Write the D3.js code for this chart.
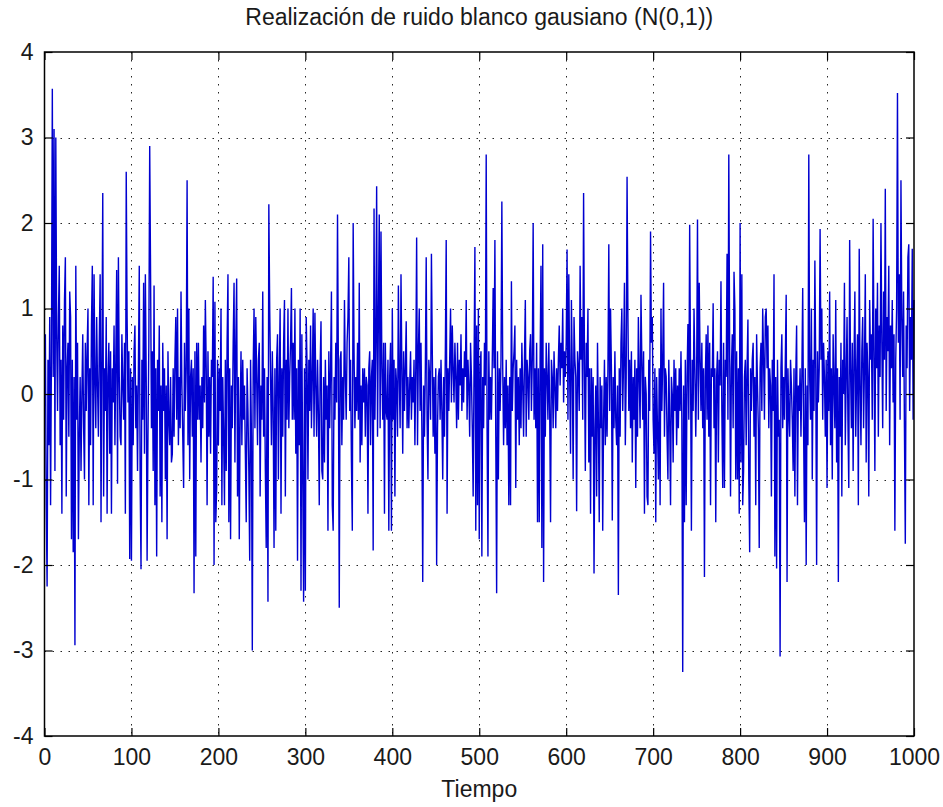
<!DOCTYPE html>
<html>
<head>
<meta charset="utf-8">
<script src="https://cdn.jsdelivr.net/npm/d3@7"></script>
<style>
  html, body { margin: 0; padding: 0; background: #ffffff; }
  svg { display: block; }
  text { font-family: "Liberation Sans", Arial, sans-serif; fill: #1a1a1a; }
</style>
</head>
<body>
<svg id="chart" width="943" height="807"></svg>
<script>
// ---- Data ----
const titleText = "Realización de ruido blanco gausiano (N(0,1))";
const xLabelText = "Tiempo";
const xTicks = [0, 100, 200, 300, 400, 500, 600, 700, 800, 900, 1000];
const yTicks = [-4, -3, -2, -1, 0, 1, 2, 3, 4];
const xDomain = [0, 1000];
const yDomain = [-4, 4];

// 1000 samples of the noise realization
const noise = [
  0.7, -1.3, -2.25, 0.4, -0.6, 0.9, -1.3, 0.5, 3.57, 0.2,
  3.1, -0.9, 3.0, 0.7, -0.2, 0.9, 1.5, -0.6, 0.4, -1.4,
  0.8, -0.3, 1.1, 1.6, -1.2, 0.3, 0.6, -0.5, 1.2, 0.9,
  -1.7, 0.4, -1.85, 0.2, -2.94, 1.5, -0.3, 0.6, -1.7, -0.5,
  0.2, -0.9, 0.0, 0.7, -0.4, -1.0, 0.6, -0.2, 0.5, 1.0,
  -1.3, 0.3, -0.6, 0.8, 1.5, -1.3, 1.4, 0.2, -0.4, 0.9,
  0.1, -0.5, 0.6, 1.4, -1.5, 0.4, 2.35, -1.2, 0.3, -0.2,
  0.9, -1.4, 0.2, 0.6, -0.7, 0.5, -1.4, 0.3, -0.1, 0.8,
  -0.6, 0.4, 1.45, -1.05, 1.6, 0.2, -0.5, -0.6, 0.7, 0.1,
  -0.3, 0.6, -1.4, 2.6, 0.9, -0.1, 0.5, -1.93, 0.3, -1.95,
  0.2, -0.6, 0.5, 0.8, -0.4, 0.1, -0.9, 0.3, 1.5, -1.0,
  -2.05, 0.4, -0.3, 1.3, -0.7, 1.4, 0.2, -1.95, -0.5, 0.6,
  2.9, 1.4, -0.4, 0.5, -0.9, 1.27, -1.3, 0.3, -1.9, 0.4,
  -0.2, 0.8, -1.2, 0.1, -1.5, 0.6, -0.2, 0.3, -1.0, 0.1,
  -1.7, 0.5, -0.3, -0.6, 0.2, -0.8, -0.7, 0.3, -0.5, 0.4,
  0.9, -0.3, 1.0, -0.6, 0.2, -0.4, 1.2, 0.1, -0.5, -1.1,
  0.6, -0.2, 0.3, 2.5, -0.6, 1.0, -1.0, 0.2, 0.4, -0.5,
  0.3, -2.33, 0.5, -1.9, 0.6, -0.3, 0.6, -0.3, 0.1, -0.8,
  0.2, -0.4, 0.8, -0.1, 1.1, 0.3, -1.3, 0.5, -0.5, 0.2,
  -0.7, 0.4, 0.2, 1.37, -2.0, 1.08, -1.5, -1.1, 0.4, -0.6,
  0.3, -0.2, 1.0, -1.3, 0.2, -0.5, -1.3, 0.4, -0.9, 0.6,
  1.4, -1.5, 0.3, -1.7, 0.1, -0.4, 0.6, 1.3, -0.8, 0.6,
  1.35, -1.2, 0.2, -1.7, -0.3, 0.5, -0.6, 0.4, -0.3, 0.1,
  -0.7, -1.5, 0.3, -0.2, -0.9, -1.95, 0.4, -0.5, -3.0, 0.3,
  1.0, -0.4, 0.9, 0.2, -0.6, 0.4, 0.6, -1.2, 0.1, -0.3,
  1.2, -0.5, 0.3, -0.9, -1.8, 0.2, -2.43, 2.22, 1.0, 0.2,
  -0.6, 0.5, -0.2, -1.8, 0.3, -1.6, 0.4, 0.7, -1.0, 0.2,
  1.0, -1.4, 0.3, -0.5, 0.6, 1.1, -1.2, 0.4, -0.3, 1.0,
  -0.4, 0.2, 0.6, 1.24, -0.3, 0.6, -0.3, 1.0, -0.7, 0.3,
  -1.95, 0.4, -0.6, 1.0, -2.3, 0.7, -1.0, -2.43, 0.3, -2.3,
  0.9, 0.3, -1.0, 0.4, -0.2, 0.8, -0.4, 0.2, 1.0, -0.5,
  0.95, 0.1, -0.5, 0.4, -0.2, -1.3, 0.3, 0.85, -0.9, -1.0,
  0.2, -0.8, 0.4, -0.3, 0.1, -1.6, 0.5, -0.4, 0.3, 1.2,
  -1.3, -1.6, 0.2, -0.3, 0.6, -0.1, 2.1, 0.3, -2.5, 0.4,
  0.5, -0.6, 0.2, -0.3, 1.1, 0.2, -0.3, 0.6, 0.9, 1.6,
  -0.2, 0.4, -0.8, -1.6, 2.0, 0.5, -0.4, 0.2, -0.2, 0.6,
  -0.3, 1.3, -0.8, 0.1, -0.6, 0.3, -0.1, 0.3, -0.5, 0.2,
  0.1, -1.4, 0.3, 0.5, -0.6, 0.2, 0.4, -1.83, 2.17, -0.3,
  0.6, 2.43, -0.5, 0.9, 2.1, -0.4, 1.9, 0.3, -0.3, 0.6,
  -1.4, 0.6, -0.2, -0.3, 0.4, -1.6, 0.2, 0.6, -1.6, 1.0,
  -0.3, 0.4, -1.2, 0.3, 0.1, -0.5, 1.27, 0.2, -0.4, 1.4,
  0.3, -0.7, 0.5, -0.2, 0.3, 0.85, -0.4, 0.2, -0.4, 0.1,
  0.5, -0.3, 0.2, -0.1, 0.4, -0.6, 0.3, 1.83, -0.6, 0.5,
  1.0, -0.2, 0.6, -0.4, -2.2, 0.1, -0.5, 0.3, 1.6, -0.3,
  -1.0, 0.4, 0.2, -0.3, 1.64, 0.5, -0.5, 0.2, -0.7, 0.3,
  -2.0, -0.4, 0.2, 0.3, -0.3, 0.4, -0.2, -1.0, 0.2, -0.5,
  0.5, 1.8, -1.4, 0.3, -0.2, 0.4, 1.0, -0.1, 0.8, 0.3,
  -0.1, 0.6, 0.2, -0.4, 0.6, -0.3, 0.4, 0.1, 0.7, -0.2,
  0.3, -0.1, 0.5, 0.2, 1.1, -0.3, 0.4, 0.1, -0.5, 0.6,
  0.2, -0.4, -1.2, 0.3, 1.72, -1.6, 0.8, -1.3, 1.0, -1.7,
  0.3, 0.5, -1.9, 0.2, -0.4, 0.6, 0.1, 2.8, -0.4, -1.9,
  0.5, -0.3, 0.2, -0.3, 0.4, 1.24, 0.3, 1.8, -0.5, -2.33,
  0.5, -1.0, 0.3, -0.2, 0.4, 2.25, 0.3, -0.6, 0.2, -0.4,
  0.4, -0.6, 0.1, -1.3, 0.2, -1.3, 1.32, -0.2, 0.3, 0.5,
  0.8, -1.1, 0.4, -0.3, 0.2, -0.6, 0.3, -0.4, 0.6, 0.1,
  -0.5, 0.4, 1.1, -0.5, 0.4, 0.2, -0.3, 0.5, 0.7, -0.2,
  0.4, 2.0, -0.3, 0.3, -0.4, 0.6, -1.5, 0.3, -1.5, 0.4,
  1.5, -1.8, 1.75, -2.2, 0.3, -0.5, 0.6, 0.2, -0.3, 0.6,
  -0.2, -1.5, 0.4, 0.2, -0.4, 0.5, 0.1, -0.4, 0.3, -0.2,
  0.4, 0.8, 0.1, 0.6, 0.3, 1.0, -0.1, 0.5, 0.2, 0.6,
  1.69, -0.3, 1.4, 0.2, -0.7, 1.1, 0.3, -1.0, 0.9, 0.4,
  0.2, -1.37, 0.5, 0.3, -0.2, 1.5, 0.4, 0.9, -0.3, 2.35,
  0.4, -0.9, 0.6, 0.2, 1.0, -0.8, 0.3, -1.4, 0.3, -0.5,
  0.2, -2.1, -0.4, 0.1, -1.2, 0.6, -0.3, -1.5, 0.2, -0.4,
  0.1, -1.6, -0.3, 0.4, -0.6, 0.2, -0.5, 0.3, 1.75, -0.2,
  1.0, 0.3, -1.48, 0.2, -0.4, 0.5, -0.3, -0.6, 0.1, -2.35,
  0.3, -0.5, 0.6, 1.0, -0.2, 0.4, 1.3, -0.6, 0.2, 2.54,
  0.9, -0.2, 0.4, -0.4, 0.5, -0.8, 0.2, -0.3, 0.4, -1.1,
  0.3, -0.5, 0.9, 0.2, -0.4, 1.16, 0.4, -0.3, 0.5, -1.4,
  0.2, 0.0, -1.2, -1.3, 0.4, -0.2, 1.9, 0.6, 0.9, -0.3,
  -0.7, 0.3, -1.5, 0.2, -0.4, -1.0, 0.3, -1.3, 1.0, -0.2,
  0.4, 1.3, -0.5, 0.3, 0.2, -0.5, -1.0, 0.4, -0.3, -1.3,
  0.2, 0.0, -0.8, 0.4, -0.2, 0.3, -0.6, 0.1, -0.4, 0.3,
  -0.2, 0.5, -0.3, -3.25, 0.1, -1.5, 0.4, -1.3, 0.2, 0.82,
  -0.3, 1.98, 0.3, -1.6, 0.4, -0.2, 1.0, 0.3, -0.5, 0.2,
  2.04, -0.3, 1.3, 0.4, -0.2, 0.6, -0.4, 0.3, -2.14, 0.2,
  0.7, -0.3, 0.8, -0.5, 0.6, -1.3, 0.3, 0.2, 1.06, -0.4,
  0.3, -1.5, 0.2, 0.5, -0.8, 0.4, 0.1, 1.32, -0.2, -1.1,
  0.6, -1.1, 0.4, 0.2, 1.64, -0.3, 2.8, 0.5, -1.2, 0.3,
  0.7, -0.4, 1.43, 1.0, -1.0, 0.5, -1.0, 0.3, -1.4, 2.0,
  -0.8, 1.4, -1.3, -0.9, 0.2, 0.4, -0.6, 0.3, 0.87, -1.0,
  -1.85, 0.3, -0.2, 0.4, 0.6, -0.5, 0.2, -1.3, 0.7, 0.1,
  -0.4, -1.8, 0.3, 0.6, -0.2, 1.0, 0.4, -0.3, 0.9, 1.0,
  0.3, 0.8, -0.4, 0.3, 0.1, -1.2, 0.4, -0.2, 1.4, -1.9,
  0.2, -2.04, 0.4, -0.5, -0.3, -3.07, 0.3, 0.7, -0.4, 0.2,
  -0.3, 0.4, 1.16, -2.2, 0.3, -0.2, -0.5, 0.4, 0.1, -0.3,
  -0.9, 0.3, -1.2, 0.2, 0.8, -1.3, 0.1, -0.2, 0.3, -0.5,
  0.2, 1.24, -0.4, -1.5, 0.3, -2.0, 0.1, -0.6, 2.8, 0.2,
  -0.3, 1.0, -1.0, 0.4, -0.2, 1.56, 0.3, -2.0, 0.5, -0.1,
  0.3, 1.93, 0.4, 1.0, -0.3, 0.6, 0.2, -0.5, 0.4, -1.1,
  0.5, -0.2, 1.2, -0.6, 0.3, -1.0, 0.7, 0.1, -0.4, 1.1,
  -0.8, 0.3, -2.2, 0.2, -0.5, 0.6, -1.2, 0.4, 0.0, 1.3,
  -0.6, 0.2, 0.9, -0.3, -1.1, 1.8, 0.3, -0.4, 0.6, -0.9,
  0.4, 1.2, -0.5, 0.2, 0.7, -1.3, 1.7, 0.1, -0.6, 0.5,
  0.9, -0.4, 0.3, 1.4, -0.8, 0.6, 0.2, -1.2, 1.1, 0.4,
  0.7, -0.3, 2.05, 0.5, -0.9, 1.0, 0.3, 1.3, -0.5, 0.8,
  0.2, 2.0, 0.6, -0.4, 1.2, 0.4, 2.4, -0.2, 0.9, 0.5,
  1.5, -0.6, 0.8, 0.3, 1.1, -0.1, 0.7, -1.6, 0.4, 1.0,
  3.52, 0.6, 1.4, -0.3, 2.5, 0.9, 0.2, 1.2, -0.4, -1.75,
  0.8, 0.3, 1.6, 1.75, -0.2, 0.9, 0.4, 1.7, -0.3, 1.1
];

// ---- Drawing ----
const svg = d3.select("#chart");
const plot = { left: 44.5, right: 914, top: 52, bottom: 736 };

const x = d3.scaleLinear().domain(xDomain).range([plot.left, plot.right]);
const y = d3.scaleLinear().domain(yDomain).range([plot.bottom, plot.top]);
const fmt = d => String(d);

svg.append("rect").attr("width", 943).attr("height", 807).attr("fill", "#ffffff");

// grid (dotted)
const grid = svg.append("g").attr("stroke", "#000").attr("stroke-width", 1)
  .attr("stroke-dasharray", "1.5,6.5").attr("opacity", 0.85);
grid.selectAll("line.gx").data(xTicks.filter(d => d > xDomain[0] && d < xDomain[1]))
  .enter().append("line")
  .attr("x1", d => Math.round(x(d)) + 0.5).attr("x2", d => Math.round(x(d)) + 0.5)
  .attr("y1", plot.top).attr("y2", plot.bottom);
grid.selectAll("line.gy").data(yTicks.filter(d => d > yDomain[0] && d < yDomain[1]))
  .enter().append("line")
  .attr("y1", d => Math.round(y(d)) + 0.5).attr("y2", d => Math.round(y(d)) + 0.5)
  .attr("x1", plot.left).attr("x2", plot.right);

// data line
const line = d3.line().x((d, i) => x(i + 1)).y(d => y(d));
svg.append("path").datum(noise)
  .attr("d", line)
  .attr("fill", "none")
  .attr("stroke", "#0000d0")
  .attr("stroke-width", 1.4)
  .attr("stroke-linejoin", "miter");

// axes with inward ticks
const tickLen = 8;
const fs = "23px";

const gB = svg.append("g").attr("transform", `translate(0,${plot.bottom})`)
  .call(d3.axisBottom(x).tickValues(xTicks).tickSize(-tickLen).tickSizeOuter(0).tickPadding(13).tickFormat(fmt));
const gT = svg.append("g").attr("transform", `translate(0,${plot.top})`)
  .call(d3.axisTop(x).tickValues(xTicks).tickSize(-tickLen).tickSizeOuter(0).tickFormat(""));
const gL = svg.append("g").attr("transform", `translate(${plot.left},0)`)
  .call(d3.axisLeft(y).tickValues(yTicks).tickSize(-tickLen).tickSizeOuter(0).tickPadding(11).tickFormat(fmt));
const gR = svg.append("g").attr("transform", `translate(${plot.right},0)`)
  .call(d3.axisRight(y).tickValues(yTicks).tickSize(-tickLen).tickSizeOuter(0).tickFormat(""));

[gB, gT, gL, gR].forEach(g => {
  g.select(".domain").remove();
  g.selectAll("line").attr("stroke", "#000").attr("stroke-width", 1.2);
  g.selectAll("text").attr("font-size", fs).attr("fill", "#1a1a1a")
    .attr("font-family", "'Liberation Sans', Arial, sans-serif");
});

// box
svg.append("rect")
  .attr("x", plot.left).attr("y", plot.top)
  .attr("width", plot.right - plot.left).attr("height", plot.bottom - plot.top)
  .attr("fill", "none").attr("stroke", "#000").attr("stroke-width", 1.5);

// title and label
svg.append("text").attr("x", (plot.left + plot.right) / 2).attr("y", 25)
  .attr("text-anchor", "middle").attr("font-size", fs).text(titleText);
svg.append("text").attr("x", (plot.left + plot.right) / 2).attr("y", 797)
  .attr("text-anchor", "middle").attr("font-size", fs).text(xLabelText);
</script>
</body>
</html>
